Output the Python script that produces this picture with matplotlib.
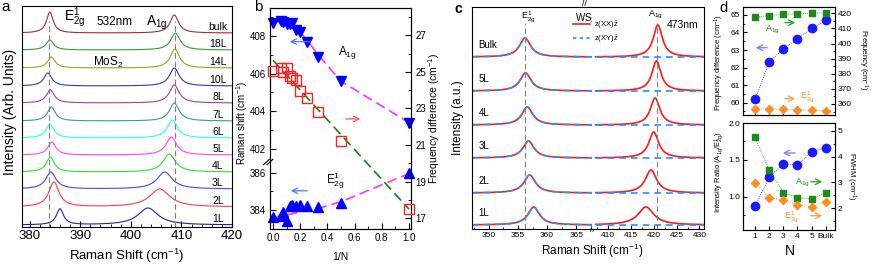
import numpy as np
import matplotlib
matplotlib.use('Agg')
import matplotlib.pyplot as plt
from matplotlib.ticker import FixedLocator, MultipleLocator, NullFormatter, FormatStrFormatter
from matplotlib.lines import Line2D

plt.rcParams['font.family'] = ['Liberation Sans', 'DejaVu Sans']
plt.rcParams['mathtext.fontset'] = 'custom'
plt.rcParams['mathtext.rm'] = 'Liberation Sans'
plt.rcParams['mathtext.it'] = 'Liberation Sans:italic'
plt.rcParams['mathtext.bf'] = 'Liberation Sans:bold'
plt.rcParams['mathtext.default'] = 'regular'

W, H = 872, 265

# ---------------- panel a: MoS2 spectra, 532 nm ----------------
layers_a = ['1L', '2L', '3L', '4L', '5L', '6L', '7L', '8L', '10L', '14L', '18L', 'bulk']
colors_a = ['#2323a0', '#ff4040', '#4444ff', '#33dd33', '#ff44ff', '#22ffff',
            '#3a9a9a', '#a040a0', '#3a3aa0', '#a0a020', '#3a9a3a', '#a03030']
offset_a = [2, 20, 38, 55, 72, 89, 106, 124, 141, 159, 177, 194]
e2g_pos_a = [386.0, 384.8, 384.2, 384.1, 384.4, 384.0, 384.3, 384.1, 383.6, 384.3, 384.0, 384.0]
e2g_h_a = [16, 25, 17, 15, 13, 14, 14, 13, 13, 11, 10, 21]
e2g_w_a = [1.7, 2.4, 2.4, 1.9, 1.9, 1.9, 1.9, 1.9, 1.9, 1.8, 1.8, 1.6]
a1g_pos_a = [403.4, 405.7, 406.7, 407.6, 408.0, 408.2, 408.6, 408.6, 408.6, 408.7, 408.8, 408.6]
a1g_h_a = [17, 18, 17, 18, 18, 18, 18, 18, 18, 19, 17, 18]
a1g_w_a = [4.8, 4.8, 3.6, 2.9, 2.5, 2.4, 2.3, 2.3, 2.3, 2.2, 2.2, 2.0]
e2g_line_a, a1g_line_a = 383.9, 408.7

# ---------------- panel b: peak positions vs 1/N ----------------
inv_n = [0.0, 1/18, 1/14, 1/10, 1/8, 1/7, 1/6, 1/5, 1/4, 1/3, 1/2, 1.0]
a1g_b = [408.71, 408.81, 408.78, 408.64, 408.67, 408.71, 408.35, 408.23, 407.7, 406.9, 405.6, 403.4]
e2g_b = [383.64, 383.7, 383.9, 383.4, 384.2, 384.3, 384.2, 384.3, 384.2, 384.15, 384.4, 385.96]
diff_b = [25.03, 25.24, 24.97, 25.24, 24.79, 24.66, 24.57, 23.97, 23.58, 22.78, 21.22, 17.49]
a1g_fit_x = [0.0, 0.1, 0.2, 0.25, 0.333, 0.5, 1.0]
a1g_fit_y = [408.85, 408.65, 408.2, 407.8, 407.0, 405.6, 403.4]
e2g_fit_x = [0.0, 0.333, 0.5, 1.0]
e2g_fit_y = [383.6, 384.1, 384.45, 385.95]
diff_fit_x = [0.0, 1.0]
diff_fit_y = [25.64, 17.49]

# ---------------- panel c: WS2 spectra, 473 nm ----------------
layers_c = ['1L', '2L', '3L', '4L', '5L', 'Bulk']
offset_c = [4, 36, 71, 104, 138, 172]
e2g_pos_c = [357.7, 357.0, 356.8, 356.6, 356.3, 356.2]
e2g_h_c = [18, 18, 17, 18, 18, 19]
e2g_w_c = [2.4, 2.4, 2.3, 2.3, 2.3, 2.3]
a1g_pos_c = [418.3, 419.4, 420.0, 420.3, 420.6, 420.9]
a1g_h_c = [18, 23, 26, 27, 30, 32]
a1g_w_c = [4.2, 3.0, 2.6, 2.5, 2.4, 2.4]
e2g_line_c, a1g_line_c = 356.2, 420.7

# ---------------- panel d: vs N ----------------
n_ticks = [1, 2, 3, 4, 5, 6]
n_labels = ['1', '2', '3', '4', '5', 'Bulk']
freq_diff_d = [60.19, 62.31, 63.07, 63.62, 64.23, 64.69]
a1g_freq_d = [417.4, 418.5, 419.4, 419.6, 420.1, 420.3]
e2g_freq_d = [356.9, 356.5, 356.5, 356.3, 355.8, 355.6]
ratio_d = [0.873, 1.264, 1.45, 1.43, 1.61, 1.66]
a1g_fwhm_d = [4.74, 3.48, 2.60, 2.41, 2.34, 2.60]
e2g_fwhm_d = [2.96, 2.41, 2.32, 2.12, 2.06, 2.25]


def px(l, t, r, b):
    return [l / W, 1 - b / H, (r - l) / W, (b - t) / H]


def lorentz(x, x0, h, w):
    return h / (1 + ((x - x0) / (w / 2)) ** 2)


def ftext(x, y, s, **kw):
    fig.text(x / W, 1 - y / H, s, ha=kw.pop('ha', 'center'), va=kw.pop('va', 'center'), **kw)


def arrow(ax, x0, x1, y, color):
    ax.annotate('', xy=(x1, y), xytext=(x0, y), xycoords='axes fraction',
                arrowprops=dict(arrowstyle='->', color=color, lw=0.9))


fig = plt.figure(figsize=(W / 100, H / 100), dpi=100)

# ===== panel a =====
ax = fig.add_axes(px(22, 6, 232, 227))
xa = np.linspace(378.5, 420, 800)
for i in range(len(layers_a)):
    y = offset_a[i] + lorentz(xa, e2g_pos_a[i], e2g_h_a[i], e2g_w_a[i]) \
        + lorentz(xa, a1g_pos_a[i], a1g_h_a[i], a1g_w_a[i])
    ax.plot(xa, y, color=colors_a[i], lw=0.8)
    ax.text(417.2, offset_a[i] + 6, layers_a[i], fontsize=7.5, ha='center', va='center')
ax.axvline(e2g_line_a, ymax=0.93, color='gray', ls=(0, (5, 3)), lw=0.8)
ax.axvline(a1g_line_a, ymax=0.93, color='gray', ls=(0, (5, 3)), lw=0.8)
ax.set_xlim(378.5, 420)
ax.set_ylim(0, 221)
ax.set_yticks([])
ax.xaxis.set_major_locator(MultipleLocator(10))
ax.xaxis.set_minor_locator(MultipleLocator(2))
ax.tick_params(axis='x', which='both', direction='in', labelsize=9.5, pad=2.5)
ax.tick_params(axis='x', which='major', length=4)
ax.tick_params(axis='x', which='minor', length=2.5)
ftext(75, 18, r'E$_{2g}^{1}$', fontsize=10)
ftext(115, 22, '532nm', fontsize=8.5)
ftext(157, 23, r'A$_{1g}$', fontsize=10)
ftext(108, 62, r'MoS$_2$', fontsize=8.5)
ftext(127, 256, r'Raman Shift (cm$^{-1}$)', fontsize=9.5)
ftext(10, 112, 'Intensity (Arb. Units)', fontsize=10, rotation=90)
ftext(6, 7, 'a', fontsize=11)

# ===== panel b =====
K = 14.73


def fwd(v):
    return np.interp(v, [300, 386.5, 401.5, 500], [300 + K, 401.23, 401.5, 500])


def inv(u):
    return np.interp(u, [300 + K, 401.23, 401.5, 500], [300, 386.5, 401.5, 500])


bx = fig.add_axes(px(270, 8, 411, 229))
bx.set_yscale('function', functions=(fwd, inv))
bx.set_ylim(383.0, 409.5)
bx.set_xlim(-0.022, 1.015)
bx.plot(a1g_fit_x, a1g_fit_y, color='#ff33ff', ls=(0, (6, 3)), lw=1.2, zorder=2)
bx.plot(e2g_fit_x, e2g_fit_y, color='#ff33ff', ls=(0, (6, 3)), lw=1.2, zorder=2)
bx.plot(inv_n, a1g_b, 'v', color='#0000ff', ms=6.5, zorder=3, clip_on=False)
bx.plot(inv_n, e2g_b, '^', color='#0000ff', ms=6.5, zorder=3, clip_on=False)
bx.yaxis.set_major_locator(FixedLocator([384, 386, 402, 404, 406, 408]))
bx.yaxis.set_minor_locator(FixedLocator([383, 385, 403, 405, 407, 409]))
bx.yaxis.set_minor_formatter(NullFormatter())
bx.yaxis.set_major_formatter(FormatStrFormatter('%d'))
bx.xaxis.set_major_locator(MultipleLocator(0.2))
bx.xaxis.set_minor_locator(MultipleLocator(0.1))
bx.xaxis.set_major_formatter(FormatStrFormatter('%.1f'))
bx.tick_params(which='both', direction='in', labelsize=7, pad=3)
bx.tick_params(which='major', length=4)
bx.tick_params(which='minor', length=2.5)
bk = (229 - 162) / 221
for dx in (-0.025, 0.0):
    bx.plot([dx - 0.02, dx + 0.02], [bk - 0.012, bk + 0.012], color='k', lw=0.8,
            transform=bx.transAxes, clip_on=False)
bx2 = bx.twinx()
bx2.set_ylim(16.4, 28.5)
bx2.plot(diff_fit_x, diff_fit_y, color='#118811', ls=(0, (6, 3)), lw=1.2, zorder=2)
bx2.plot(inv_n, diff_b, 's', mfc='none', mec='#ff2020', mew=1.0, ms=7, zorder=3, clip_on=False)
bx2.set_yticks([17, 19, 21, 23, 25, 27])
bx2.yaxis.set_minor_locator(MultipleLocator(1))
bx2.tick_params(which='both', direction='in', labelsize=7, pad=3)
bx2.tick_params(which='major', length=4)
bx2.tick_params(which='minor', length=2.5)
arrow(bx, 0.298, 0.12, 0.848, '#5577ff')
arrow(bx, 0.284, 0.128, 0.173, '#5577ff')
arrow(bx, 0.518, 0.66, 0.498, '#ff5555')
bx.text(0.55, 0.80, r'A$_{1g}$', transform=bx.transAxes, fontsize=8.5, ha='center', va='center')
bx.text(0.46, 0.22, r'E$_{2g}^{1}$', transform=bx.transAxes, fontsize=8.5, ha='center', va='center')
ftext(242, 123, r'Raman shift (cm$^{-1}$)', fontsize=7, rotation=90)
ftext(434, 118, r'Frequency difference (cm$^{-1}$)', fontsize=7.5, rotation=90)
ftext(340, 257, '1/N', fontsize=7.5)
ftext(258, 7, 'b', fontsize=11)

# ===== panel c =====
c1 = fig.add_axes(px(472, 7, 592, 229))
c2 = fig.add_axes(px(592, 7, 704, 229))
xc1 = np.linspace(347.1, 367.7, 400)
xc2 = np.linspace(407.3, 431, 400)
for i in range(len(layers_c)):
    for axc, xc in ((c1, xc1), (c2, xc2)):
        e2g = lorentz(xc, e2g_pos_c[i], e2g_h_c[i], e2g_w_c[i])
        a1g = lorentz(xc, a1g_pos_c[i], a1g_h_c[i], a1g_w_c[i])
        axc.plot(xc, offset_c[i] + e2g + a1g, color='#ff1a1a', lw=1.2)
        axc.plot(xc, offset_c[i] + e2g, color='#2b8cff', lw=1.2, ls=(0, (4, 3)))
    c1.text(348.2, offset_c[i] + 12, layers_c[i], fontsize=7, ha='left', va='center')
c1.axvline(e2g_line_c, ymax=0.93, color='gray', ls=(0, (5, 3)), lw=0.8)
c2.axvline(a1g_line_c, ymax=0.93, color='gray', ls=(0, (5, 3)), lw=0.8)
c1.set_xlim(347.1, 367.7)
c2.set_xlim(406.5, 431)
for axc in (c1, c2):
    axc.set_ylim(0, 222)
    axc.set_yticks([])
    axc.xaxis.set_major_locator(MultipleLocator(5))
    axc.xaxis.set_minor_locator(MultipleLocator(2.5))
    axc.tick_params(axis='x', which='both', direction='in', labelsize=6, pad=2.5)
    axc.tick_params(axis='x', which='major', length=3)
    axc.tick_params(axis='x', which='minor', length=1.5)
c1.spines['right'].set_visible(False)
c2.spines['left'].set_visible(False)
c1.text(1.0, 0.0, '//', transform=c1.transAxes, fontsize=6.5, ha='center', va='center')
c1.text(0.94, 1.015, '//', transform=c1.transAxes, fontsize=6.5, ha='center', va='center')
c1.text(356.75, 0.955, r'E$_{2g}^{1}$', transform=c1.get_xaxis_transform(), fontsize=6.5,
        ha='center', va='center')
c1.text(0.95, 0.95, r'WS$_2$', transform=c1.transAxes, fontsize=7, ha='center', va='center')
c2.text(420.3, 0.968, r'A$_{1g}$', transform=c2.get_xaxis_transform(), fontsize=6.5,
        ha='center', va='center')
c2.text(0.81, 0.92, '473nm', transform=c2.transAxes, fontsize=7.5, ha='center', va='center')
handles = [Line2D([], [], color='#ff1a1a', lw=1.2),
           Line2D([], [], color='#2b8cff', lw=1.2, ls=(0, (2, 2)))]
fig.legend(handles, [r'z(XX)$\bar{\mathrm{z}}$', r'z(XY)$\bar{\mathrm{z}}$'],
           loc='center left', bbox_to_anchor=(566 / W, 1 - 32 / H), frameon=False,
           fontsize=5.5, handlelength=2.2, handletextpad=0.6, labelspacing=0.3)
ftext(592, 251, r'Raman Shift (cm$^{-1}$)', fontsize=8.5)
ftext(458, 118, 'Intensity (a.u.)', fontsize=8.5, rotation=90)
ftext(458, 9, 'c', fontsize=10, fontweight='bold')

# ===== panel d =====
blue, green, orange = '#1a1aff', '#1a8a1a', '#ff8c1a'
dt = fig.add_axes(px(743, 7, 835, 115))
dt.plot(n_ticks, freq_diff_d, 'o', color=blue, ms=6, ls=(0, (1, 1.5)), lw=0.6, zorder=3)
dt.set_ylim(59.3, 65.45)
dt.set_xlim(0.15, 6.65)
dt.set_xticks(n_ticks)
dt.set_xticklabels([])
dt.set_yticks([60, 61, 62, 63, 64, 65])
dt.yaxis.set_minor_locator(MultipleLocator(0.5))
dt2 = dt.twinx()
dt2.plot(n_ticks, a1g_freq_d, 's', color=green, ms=4.5, ls=(0, (1, 1.5)), lw=0.6)
dt2.plot(n_ticks, e2g_freq_d, 'D', color=orange, ms=4.5, ls=(0, (1, 1.5)), lw=0.6)
dt2.set_ylim(352.7, 424.2)
dt2.set_yticks([360, 370, 380, 390, 400, 410, 420])
dt2.yaxis.set_minor_locator(MultipleLocator(5))
arrow(dt, 0.293, 0.109, 0.623, '#6f7fff')
arrow(dt, 0.424, 0.598, 0.855, '#2aa02a')
arrow(dt, 0.424, 0.598, 0.151, '#ffa040')
dt.text(0.315, 0.796, r'A$_{1g}$', transform=dt.transAxes, color=green, fontsize=6.5,
        ha='center', va='center')
dt.text(0.696, 0.167, r'E$_{2g}^{1}$', transform=dt.transAxes, color=orange, fontsize=6.5,
        ha='center', va='center')

db = fig.add_axes(px(743, 123, 835, 230))
db.plot(n_ticks, ratio_d, 'o', color=blue, ms=6, ls=(0, (1, 1.5)), lw=0.6, zorder=3)
db.set_ylim(0.55, 2.0)
db.set_xlim(0.15, 6.65)
db.set_xticks(n_ticks)
db.set_xticklabels(n_labels)
db.set_yticks([1.0, 1.5, 2.0])
db.yaxis.set_minor_locator(MultipleLocator(0.25))
db2 = db.twinx()
db2.plot(n_ticks, a1g_fwhm_d, 's', color=green, ms=4.5, ls=(0, (1, 1.5)), lw=0.6)
db2.plot(n_ticks, e2g_fwhm_d, 'D', color=orange, ms=4.5, ls=(0, (1, 1.5)), lw=0.6)
db2.set_ylim(1.15, 5.3)
db2.set_yticks([2, 3, 4, 5])
db2.yaxis.set_minor_locator(MultipleLocator(0.5))
arrow(db, 0.598, 0.402, 0.72, '#6f7fff')
arrow(db, 0.707, 0.891, 0.451, '#2aa02a')
arrow(db, 0.707, 0.891, 0.134, '#ffa040')
db.text(0.649, 0.442, r'A$_{1g}$', transform=db.transAxes, color=green, fontsize=6.5,
        ha='center', va='center')
db.text(0.529, 0.124, r'E$_{2g}^{1}$', transform=db.transAxes, color=orange, fontsize=6.5,
        ha='center', va='center')
for a_ in (dt, dt2, db, db2):
    a_.tick_params(which='both', direction='in', labelsize=6, pad=2)
    a_.tick_params(which='major', length=3)
    a_.tick_params(which='minor', length=1.5)
ftext(719, 63, r'Frequency difference (cm$^{-1}$)', fontsize=5.5, rotation=90)
ftext(863, 60, r'Frequency (cm$^{-1}$)', fontsize=5.5, rotation=270)
ftext(719, 172, r'Intensity Ratio (A$_{1g}$/E$_{2g}^{1}$)', fontsize=5.5, rotation=90)
ftext(851, 176, r'FWHM (cm$^{-1}$)', fontsize=5.5, rotation=270)
ftext(790, 251, 'N', fontsize=10)
ftext(723, 8, 'd', fontsize=10.5)

fig.savefig('out.png', dpi=100)
